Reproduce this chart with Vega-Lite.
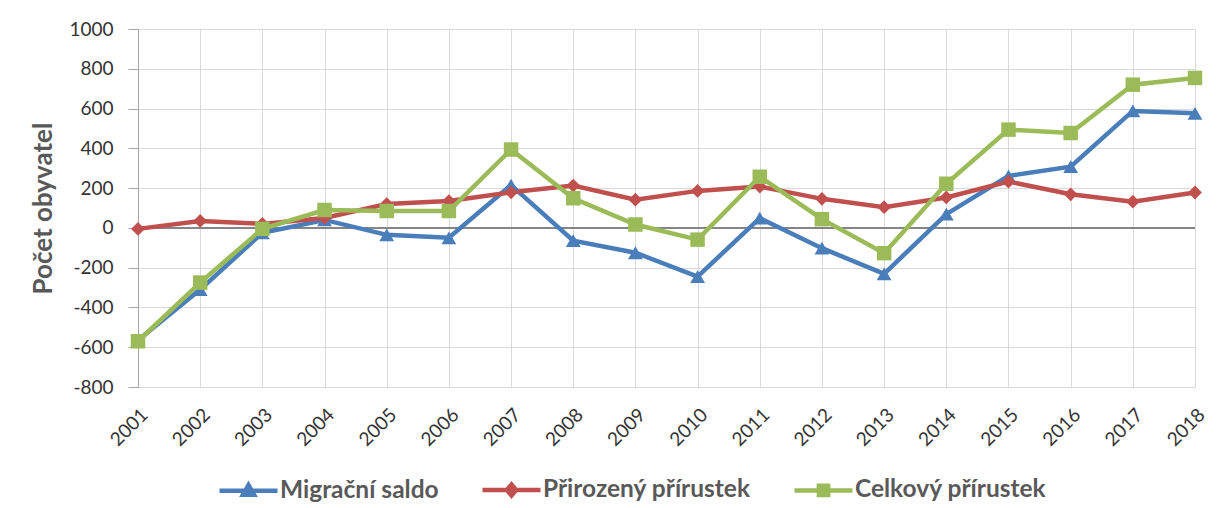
{
  "$schema": "https://vega.github.io/schema/vega-lite/v6.json",
  "width": 1057,
  "height": 358,
  "autosize": {"type": "none"},
  "padding": {"left": 138, "top": 29, "right": 26, "bottom": 121},
  "background": "white",
  "config": {"font": "Lato", "view": {"stroke": null}},
  "data": {"values": [
    {"rok": "2001", "rada": "Migrační saldo", "hodnota": -565},
    {"rok": "2002", "rada": "Migrační saldo", "hodnota": -310},
    {"rok": "2003", "rada": "Migrační saldo", "hodnota": -25},
    {"rok": "2004", "rada": "Migrační saldo", "hodnota": 40},
    {"rok": "2005", "rada": "Migrační saldo", "hodnota": -35},
    {"rok": "2006", "rada": "Migrační saldo", "hodnota": -50},
    {"rok": "2007", "rada": "Migrační saldo", "hodnota": 215},
    {"rok": "2008", "rada": "Migrační saldo", "hodnota": -64},
    {"rok": "2009", "rada": "Migrační saldo", "hodnota": -125},
    {"rok": "2010", "rada": "Migrační saldo", "hodnota": -245},
    {"rok": "2011", "rada": "Migrační saldo", "hodnota": 49},
    {"rok": "2012", "rada": "Migrační saldo", "hodnota": -102},
    {"rok": "2013", "rada": "Migrační saldo", "hodnota": -231},
    {"rok": "2014", "rada": "Migrační saldo", "hodnota": 69},
    {"rok": "2015", "rada": "Migrační saldo", "hodnota": 261},
    {"rok": "2016", "rada": "Migrační saldo", "hodnota": 308},
    {"rok": "2017", "rada": "Migrační saldo", "hodnota": 588},
    {"rok": "2018", "rada": "Migrační saldo", "hodnota": 576},
    {"rok": "2001", "rada": "Přirozený přírustek", "hodnota": -5},
    {"rok": "2002", "rada": "Přirozený přírustek", "hodnota": 35},
    {"rok": "2003", "rada": "Přirozený přírustek", "hodnota": 20},
    {"rok": "2004", "rada": "Přirozený přírustek", "hodnota": 50},
    {"rok": "2005", "rada": "Přirozený přírustek", "hodnota": 120},
    {"rok": "2006", "rada": "Přirozený přírustek", "hodnota": 135},
    {"rok": "2007", "rada": "Přirozený přírustek", "hodnota": 179},
    {"rok": "2008", "rada": "Přirozený přírustek", "hodnota": 213},
    {"rok": "2009", "rada": "Přirozený přírustek", "hodnota": 142},
    {"rok": "2010", "rada": "Přirozený přírustek", "hodnota": 186},
    {"rok": "2011", "rada": "Přirozený přírustek", "hodnota": 208},
    {"rok": "2012", "rada": "Přirozený přírustek", "hodnota": 146},
    {"rok": "2013", "rada": "Přirozený přírustek", "hodnota": 104},
    {"rok": "2014", "rada": "Přirozený přírustek", "hodnota": 153},
    {"rok": "2015", "rada": "Přirozený přírustek", "hodnota": 233},
    {"rok": "2016", "rada": "Přirozený přírustek", "hodnota": 169},
    {"rok": "2017", "rada": "Přirozený přírustek", "hodnota": 132},
    {"rok": "2018", "rada": "Přirozený přírustek", "hodnota": 178},
    {"rok": "2001", "rada": "Celkový přírustek", "hodnota": -570},
    {"rok": "2002", "rada": "Celkový přírustek", "hodnota": -275},
    {"rok": "2003", "rada": "Celkový přírustek", "hodnota": -5},
    {"rok": "2004", "rada": "Celkový přírustek", "hodnota": 90},
    {"rok": "2005", "rada": "Celkový přírustek", "hodnota": 85},
    {"rok": "2006", "rada": "Celkový přírustek", "hodnota": 85},
    {"rok": "2007", "rada": "Celkový přírustek", "hodnota": 394},
    {"rok": "2008", "rada": "Celkový přírustek", "hodnota": 149},
    {"rok": "2009", "rada": "Celkový přírustek", "hodnota": 17},
    {"rok": "2010", "rada": "Celkový přírustek", "hodnota": -59},
    {"rok": "2011", "rada": "Celkový přírustek", "hodnota": 257},
    {"rok": "2012", "rada": "Celkový přírustek", "hodnota": 44},
    {"rok": "2013", "rada": "Celkový přírustek", "hodnota": -127},
    {"rok": "2014", "rada": "Celkový přírustek", "hodnota": 222},
    {"rok": "2015", "rada": "Celkový přírustek", "hodnota": 494},
    {"rok": "2016", "rada": "Celkový přírustek", "hodnota": 477},
    {"rok": "2017", "rada": "Celkový přírustek", "hodnota": 720},
    {"rok": "2018", "rada": "Celkový přírustek", "hodnota": 754}
  ]},
  "encoding": {
    "x": {
      "field": "rok", "type": "ordinal",
      "scale": {"type": "point", "padding": 0},
      "axis": {
        "title": null, "labelAngle": -45, "labelFontSize": 19, "labelColor": "#333333",
        "grid": true, "gridColor": "#d9d9d9", "domain": false, "ticks": false,
        "labelPadding": 18
      }
    },
    "y": {
      "field": "hodnota", "type": "quantitative",
      "scale": {"domain": [-800, 1000], "nice": false, "zero": false},
      "axis": {
        "title": "Počet obyvatel", "titleFontSize": 26, "titleFontWeight": "bold",
        "titleColor": "#595959", "titlePadding": 12,
        "values": [-800, -600, -400, -200, 0, 200, 400, 600, 800, 1000],
        "labelExpr": "'' + datum.value",
        "labelFontSize": 19, "labelColor": "#333333", "labelPadding": 15,
        "grid": true, "gridColor": "#d9d9d9",
        "domainColor": "#a6a6a6", "tickColor": "#a6a6a6", "tickSize": 10
      }
    }
  },
  "layer": [
    {
      "mark": {"type": "rule", "color": "#868686", "strokeWidth": 1},
      "encoding": {"y": {"datum": 0}, "x": null}
    },
    {
      "mark": {"type": "line", "strokeWidth": 4.5},
      "encoding": {
        "color": {
          "field": "rada", "type": "nominal",
          "sort": ["Migrační saldo", "Přirozený přírustek", "Celkový přírustek"],
          "scale": {
            "domain": ["Migrační saldo", "Přirozený přírustek", "Celkový přírustek"],
            "range": ["#4a7ebb", "#c0504d", "#9bbb59"]
          },
          "legend": {
            "title": null, "orient": "none", "direction": "horizontal",
            "legendX": 79, "legendY": 429,
            "labelFont": "Lato", "labelFontSize": 24.5, "labelFontWeight": "bold",
            "labelColor": "#595959", "labelLimit": 400,
            "symbolSize": 3364, "symbolStrokeWidth": 4.5,
            "columnPadding": 34, "labelOffset": 0,
            "encoding": {
              "symbols": {
                "shape": {
                  "condition": [
                    {"test": "datum.value === 'Migrační saldo'", "value": "M-1,0H1M0,-0.2L0.19,0.13L-0.19,0.13Z"},
                    {"test": "datum.value === 'Přirozený přírustek'", "value": "M-1,0H1M0,-0.19L0.16,0L0,0.19L-0.16,0Z"}
                  ],
                  "value": "M-1,0H1M-0.16,-0.16H0.16V0.16H-0.16Z"
                },
                "fill": {
                  "condition": [
                    {"test": "datum.value === 'Migrační saldo'", "value": "#4a7ebb"},
                    {"test": "datum.value === 'Přirozený přírustek'", "value": "#c0504d"}
                  ],
                  "value": "#9bbb59"
                },
                "stroke": {
                  "condition": [
                    {"test": "datum.value === 'Migrační saldo'", "value": "#4a7ebb"},
                    {"test": "datum.value === 'Přirozený přírustek'", "value": "#c0504d"}
                  ],
                  "value": "#9bbb59"
                },
                "opacity": {"value": 1}
              }
            }
          }
        }
      }
    },
    {
      "transform": [{"filter": "datum.rada === 'Migrační saldo'"}],
      "mark": {"type": "point", "filled": true, "opacity": 1, "size": 220, "shape": "triangle-up", "color": "#4a7ebb"}
    },
    {
      "transform": [{"filter": "datum.rada === 'Přirozený přírustek'"}],
      "mark": {"type": "point", "filled": true, "opacity": 1, "size": 190, "shape": "diamond", "color": "#c0504d"}
    },
    {
      "transform": [{"filter": "datum.rada === 'Celkový přírustek'"}],
      "mark": {"type": "point", "filled": true, "opacity": 1, "size": 210, "shape": "square", "color": "#9bbb59"}
    }
  ]
}
